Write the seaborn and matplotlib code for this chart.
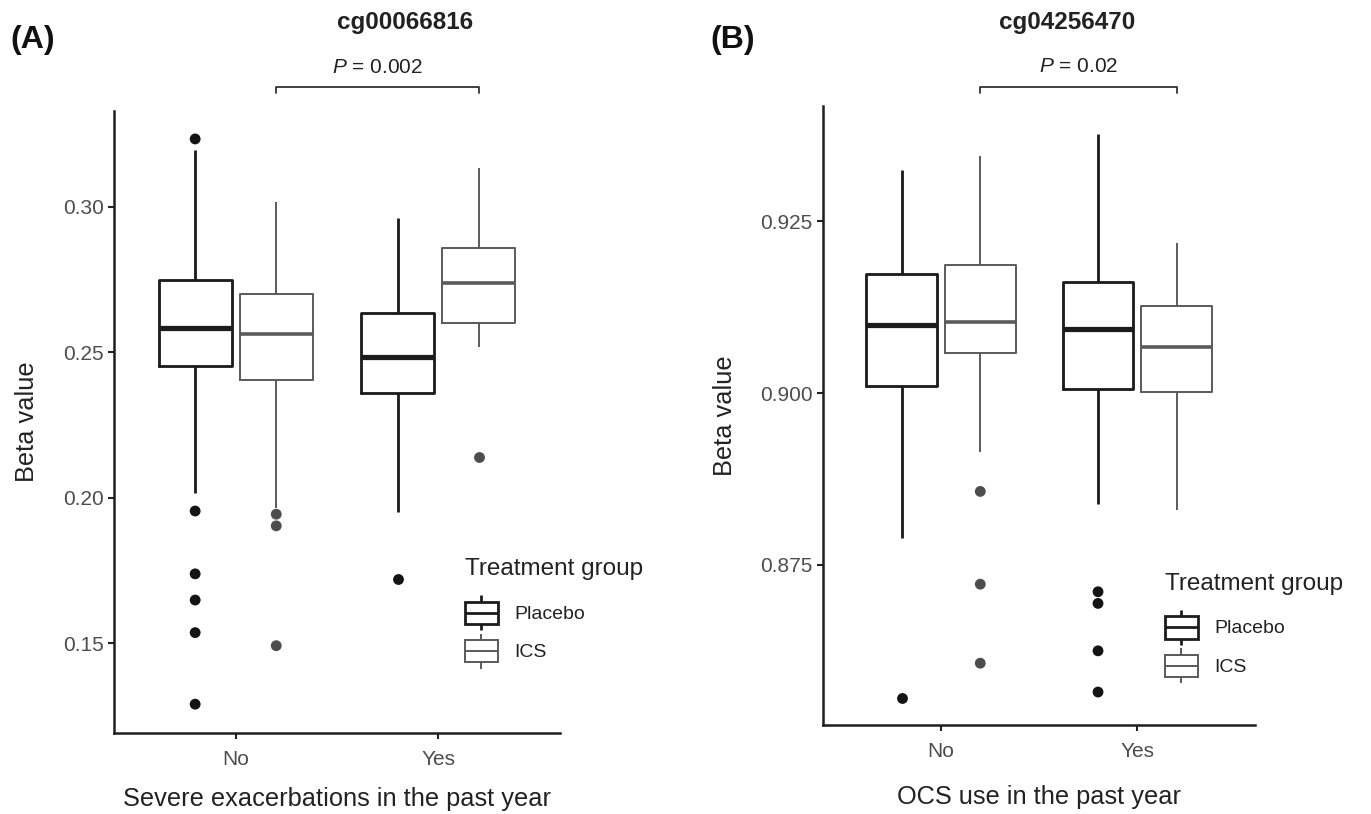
import matplotlib
matplotlib.use("Agg")
import matplotlib.pyplot as plt
import matplotlib.transforms as mtransforms
from matplotlib.colors import same_color
from matplotlib.legend_handler import HandlerBase
from matplotlib.lines import Line2D
from matplotlib.patches import Patch, Rectangle
from matplotlib.ticker import FormatStrFormatter
import pandas as pd
import seaborn as sns

# categories
groups = ["No", "Yes"]
treatments = ["Placebo", "ICS"]

# box summaries: lower whisker, Q1, median, Q3, upper whisker
a_placebo_no = [0.2015, 0.2453, 0.2584, 0.2748, 0.3195]
a_ics_no = [0.1965, 0.2404, 0.2562, 0.2700, 0.3015]
a_placebo_yes = [0.1952, 0.2359, 0.2485, 0.2634, 0.2960]
a_ics_yes = [0.2519, 0.2601, 0.2739, 0.2857, 0.3134]

b_placebo_no = [0.8789, 0.9010, 0.9099, 0.9174, 0.9325]
b_ics_no = [0.8914, 0.9058, 0.9104, 0.9187, 0.9345]
b_placebo_yes = [0.8839, 0.9006, 0.9093, 0.9162, 0.9377]
b_ics_yes = [0.8830, 0.9001, 0.9067, 0.9127, 0.9218]

# outlying points
a_out_placebo_no = [0.3233, 0.1954, 0.1738, 0.1648, 0.1536, 0.1290]
a_out_ics_no = [0.1943, 0.1903, 0.1491]
a_out_placebo_yes = [0.1720]
a_out_ics_yes = [0.2141]

b_out_placebo_no = [0.8557]
b_out_ics_no = [0.8857, 0.8722, 0.8607]
b_out_placebo_yes = [0.8711, 0.8694, 0.8625, 0.8565]
b_out_ics_yes = []

box_colors = {"Placebo": "#1c1c1c", "ICS": "#5a5a5a"}
point_colors = {"Placebo": "#141414", "ICS": "#4d4d4d"}


def to_frame(cells):
    rows = []
    for (grp, trt), vals in cells.items():
        for v in vals:
            rows.append({"group": grp, "treatment": trt, "beta": v})
    return pd.DataFrame(rows, columns=["group", "treatment", "beta"])


panel_a_box = to_frame({("No", "Placebo"): a_placebo_no, ("No", "ICS"): a_ics_no,
                        ("Yes", "Placebo"): a_placebo_yes, ("Yes", "ICS"): a_ics_yes})
panel_a_out = to_frame({("No", "Placebo"): a_out_placebo_no, ("No", "ICS"): a_out_ics_no,
                        ("Yes", "Placebo"): a_out_placebo_yes, ("Yes", "ICS"): a_out_ics_yes})
panel_b_box = to_frame({("No", "Placebo"): b_placebo_no, ("No", "ICS"): b_ics_no,
                        ("Yes", "Placebo"): b_placebo_yes, ("Yes", "ICS"): b_ics_yes})
panel_b_out = to_frame({("No", "Placebo"): b_out_placebo_no, ("No", "ICS"): b_out_ics_no,
                        ("Yes", "Placebo"): b_out_placebo_yes, ("Yes", "ICS"): b_out_ics_yes})


class BoxKey(HandlerBase):
    # little boxplot glyph for the legend, ggplot style
    def create_artists(self, legend, orig_handle, xdescent, ydescent, width, height, fontsize, trans):
        col = orig_handle.get_edgecolor()
        lw = orig_handle.get_linewidth()
        x0, y0 = -xdescent, -ydescent
        lo, hi = y0 + 0.18 * height, y0 + 0.82 * height
        xm = x0 + width / 2
        box = Rectangle((x0, lo), width, hi - lo, facecolor="white", edgecolor=col, lw=lw, transform=trans)
        parts = [box]
        for xs, ys in [([xm, xm], [y0, lo]), ([xm, xm], [hi, y0 + height]),
                       ([x0, x0 + width], [y0 + 0.5 * height] * 2)]:
            parts.append(Line2D(xs, ys, color=col, lw=lw, transform=trans, solid_capstyle="butt"))
        return parts


sns.set_theme(style="ticks")
plt.rcParams["font.family"] = ["Liberation Sans", "DejaVu Sans"]
plt.rcParams["mathtext.fontset"] = "custom"
plt.rcParams["mathtext.it"] = "Liberation Sans:italic"
plt.rcParams["mathtext.rm"] = "Liberation Sans"

fig = plt.figure(figsize=(13.71, 8.14), dpi=100)
ax_a = fig.add_axes([0.0832, 0.0999, 0.3253, 0.7637])
ax_b = fig.add_axes([0.6005, 0.1093, 0.3149, 0.7605])

panels = [
    (ax_a, panel_a_box, panel_a_out, (0.1192, 0.3329), [0.15, 0.20, 0.25, 0.30], "%.2f",
     "Severe exacerbations in the past year", "cg00066816", "$\\it{P}$ = 0.002", "(A)",
     (1.0386, 1.029, 1.0707), 405, 10, 0.339, 0.3146, 13),
    (ax_b, panel_b_box, panel_b_out, (0.8517, 0.9418), [0.875, 0.900, 0.925], "%.3f",
     "OCS use in the past year", "cg04256470", "$\\it{P}$ = 0.02", "(B)",
     (1.0307, 1.021, 1.063), 1067, 710, 0.8497, 0.2966, 17),
]

dodge = 0.2  # offset of each hue within a category (width 0.8, two levels)

for (ax, box_df, out_df, ylim, yticks, fmt, xlabel, title, ptext, tag,
     (br_y, br_tip, p_y), title_x, tag_x, leg_x, leg_y, xpad) in panels:
    sns.boxplot(data=box_df, x="group", y="beta", hue="treatment", order=groups,
                hue_order=treatments, palette=box_colors, fill=False, whis=(0, 100),
                width=0.8, gap=0.1, linewidth=1.4, showcaps=False, showfliers=False,
                medianprops={"linewidth": 2.6}, legend=False, ax=ax)
    # placebo drawn with heavier strokes
    for ln in ax.lines:
        if same_color(ln.get_color(), box_colors["Placebo"]):
            ln.set_linewidth(ln.get_linewidth() * 1.45)
    sns.stripplot(data=out_df, x="group", y="beta", hue="treatment", order=groups,
                  hue_order=treatments, palette=point_colors, dodge=True, jitter=False,
                  size=7.8, linewidth=0, legend=False, ax=ax)

    ax.set_xlim(-0.6, 1.6)
    ax.set_ylim(*ylim)
    ax.set_yticks(yticks)
    ax.yaxis.set_major_formatter(FormatStrFormatter(fmt))
    ax.set_xlabel(xlabel, fontsize=18.3, color="#222222", labelpad=xpad)
    ax.set_ylabel("Beta value", fontsize=18.3, color="#222222", labelpad=17)
    ax.tick_params(axis="both", length=4, width=1.5, color="#222222",
                   labelcolor="#4d4d4d", labelsize=15)
    ax.tick_params(axis="x", pad=8.5)
    sns.despine(ax=ax)
    for side in ["left", "bottom"]:
        ax.spines[side].set_linewidth(1.8)
        ax.spines[side].set_color("#1f1f1f")

    # significance bracket between the ICS boxes
    trans = mtransforms.blended_transform_factory(ax.transData, ax.transAxes)
    x1, x2 = 0 + dodge, 1 + dodge
    ax.plot([x1, x1, x2, x2], [br_tip, br_y, br_y, br_tip], color="#333333", lw=1.3,
            transform=trans, clip_on=False)
    ax.text((x1 + x2) / 2, p_y, ptext, transform=trans, ha="center", va="center",
            fontsize=15, color="#222222")

    fig.text(title_x / 1371, 1 - 23 / 814, title, ha="center", va="center",
             fontsize=17.5, fontweight="bold", color="#222222")
    fig.text(tag_x / 1371, 1 - 40 / 814, tag, ha="left", va="center",
             fontsize=23, fontweight="bold", color="#111111")

    handles = [Patch(facecolor="white", edgecolor=box_colors[t],
                     linewidth=2.0 if t == "Placebo" else 1.4, label=t) for t in treatments]
    leg = ax.legend(handles=handles, title="Treatment group", loc="upper left",
                    bbox_to_anchor=(leg_x, leg_y), bbox_transform=fig.transFigure,
                    frameon=False, fontsize=14, title_fontsize=17.5, handlelength=1.7,
                    handleheight=2.4, handletextpad=0.85, labelspacing=0.17,
                    borderpad=0, borderaxespad=0, alignment="left",
                    handler_map={Patch: BoxKey()})
    leg._legend_box.sep = 11  # more room under the legend title
    for txt in leg.get_texts():
        txt.set_color("#222222")
    leg.get_title().set_color("#222222")

fig.savefig("out.png", dpi=100)
